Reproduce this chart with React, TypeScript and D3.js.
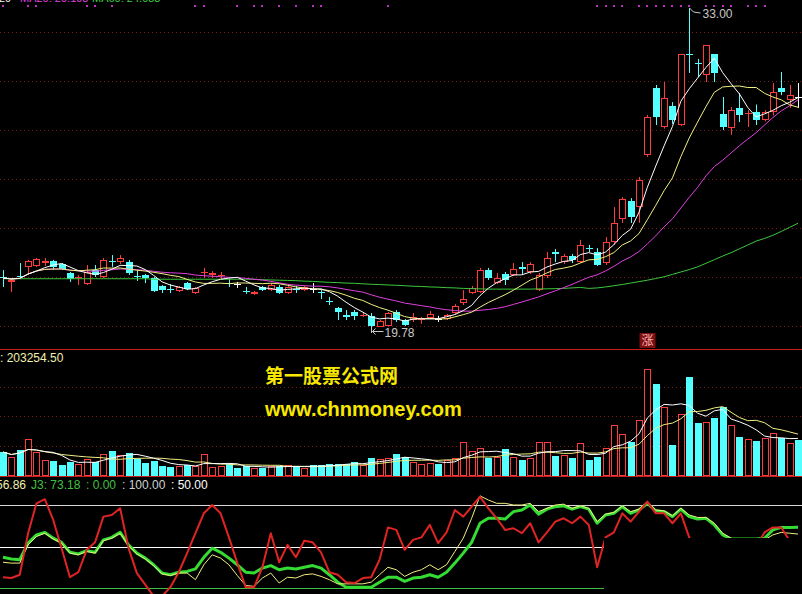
import React from 'react';
import * as d3 from 'd3';

const W = 802;
const H = 594;

const opens = [21.85,21.65,21.89,22.27,22.31,22.43,22.51,22.39,22.02,21.81,21.56,22.14,21.85,22.51,22.47,22.47,21.89,21.94,21.81,21.48,21.37,21.27,21.60,21.19,22.02,21.94,21.93,21.62,21.57,21.29,21.15,21.44,21.31,21.44,21.19,21.37,21.31,21.36,21.24,20.87,20.57,20.28,20.40,20.27,20.24,19.79,19.82,20.40,20.07,20.07,20.10,20.15,20.11,20.11,20.36,20.78,21.19,21.23,22.14,21.60,21.98,21.94,22.27,22.06,21.31,21.89,22.89,22.47,22.72,22.47,23.06,22.89,22.43,23.30,24.26,25.00,24.75,26.91,29.68,28.07,28.94,28.15,31.10,30.74,30.22,31.09,28.61,28.03,28.86,28.64,28.69,28.36,28.69,29.68,29.19,29.31];
const highs = [22.14,21.77,22.43,22.56,22.64,22.64,22.56,22.43,22.06,21.94,22.35,22.35,22.64,22.76,22.76,22.56,22.14,21.98,21.85,21.52,21.56,21.48,21.65,21.44,22.23,22.10,22.06,21.77,21.65,21.44,21.27,21.48,21.60,21.52,21.48,21.48,21.48,21.60,21.31,21.02,20.61,20.48,20.48,20.40,20.36,20.07,20.40,20.48,20.11,20.36,20.20,20.44,20.24,20.32,20.73,21.31,21.48,22.23,22.23,22.02,22.06,22.43,22.47,22.47,22.02,22.89,23.01,22.81,22.81,23.39,23.18,23.05,23.51,24.75,25.16,25.12,26.00,28.57,29.81,29.93,29.10,31.09,33.00,30.89,31.47,31.09,29.31,28.90,29.48,28.77,29.00,28.77,29.89,30.35,29.81,29.89];
const lows = [21.44,21.23,21.81,21.94,22.27,22.31,22.14,22.14,21.65,21.52,21.52,21.85,21.81,22.27,22.39,21.94,21.69,21.60,21.23,21.19,21.19,21.23,21.31,21.15,21.81,21.81,21.77,21.44,21.40,21.15,21.11,21.27,21.27,21.15,21.15,21.19,21.27,21.19,20.94,20.69,20.07,20.07,20.07,20.20,19.78,19.80,19.80,19.99,19.82,19.99,19.91,20.11,19.99,20.07,20.32,20.69,21.15,21.19,21.73,21.56,21.52,21.89,21.94,21.98,21.27,21.81,22.47,22.39,22.43,22.43,22.89,22.31,22.35,23.18,24.09,24.09,24.10,26.83,28.15,28.00,28.20,28.10,30.31,30.14,29.93,29.93,27.94,27.74,28.27,28.07,28.15,28.30,28.55,29.39,28.86,28.86];
const closes = [21.81,21.73,21.85,22.51,22.60,22.51,22.27,22.18,21.77,21.85,22.06,21.94,22.56,22.47,22.64,22.02,21.85,21.81,21.27,21.31,21.35,21.44,21.36,21.40,22.06,22.02,21.95,21.60,21.57,21.27,21.23,21.31,21.52,21.19,21.44,21.35,21.44,21.36,21.22,20.85,20.40,20.20,20.24,20.29,19.82,20.03,20.36,20.07,19.86,20.20,20.12,20.32,20.11,20.28,20.65,20.94,21.40,22.14,21.81,21.81,21.73,22.18,22.18,22.39,21.94,22.64,22.81,22.72,22.56,23.18,23.04,22.35,23.30,24.09,25.08,24.34,25.87,28.48,28.48,29.27,28.36,31.09,31.05,30.70,31.47,30.31,28.07,28.77,28.57,28.66,28.36,28.69,29.52,29.52,29.39,29.31];
const volumes = [135500,107300,146800,208900,135500,90300,84700,62100,79000,67800,96000,79000,124200,141200,118600,129900,96000,73400,84700,56500,50800,56500,62100,56500,124200,50800,56500,67800,45200,56500,45200,45200,56500,58000,62000,50000,45000,60000,62000,70000,68000,70000,78000,62000,100000,95000,100000,125000,110000,80000,70000,75000,65000,90000,100000,190000,140000,160000,100000,110000,150000,110000,90000,101600,192000,192000,112900,118600,101600,186300,90300,107300,158100,288000,237100,192000,316200,604100,519400,389600,175000,350100,558900,299200,304900,327500,389600,288000,220200,208900,197600,214500,242800,214500,186300,203254.5];
const ma60 = [21.78,21.78,21.78,21.78,21.78,21.78,21.78,21.78,21.78,21.78,21.78,21.78,21.78,21.78,21.78,21.78,21.78,21.78,21.76,21.76,21.76,21.76,21.76,21.76,21.76,21.76,21.76,21.76,21.76,21.76,21.76,21.74,21.73,21.72,21.71,21.70,21.68,21.67,21.65,21.63,21.62,21.60,21.59,21.57,21.55,21.54,21.52,21.51,21.49,21.47,21.46,21.44,21.43,21.41,21.40,21.38,21.37,21.36,21.35,21.35,21.35,21.35,21.35,21.35,21.36,21.36,21.37,21.38,21.40,21.42,21.38,21.40,21.44,21.49,21.54,21.60,21.66,21.72,21.79,21.86,21.96,22.06,22.16,22.27,22.42,22.57,22.72,22.86,23.02,23.18,23.34,23.45,23.58,23.74,23.91,24.08];
const lineRed = [13,12,16,66,102,107,82,48,13,19,46,55,86,88,96,48,18,4,-10,-10,1,19,42,66,90,100,90,61,30,1,1,25,66,31,52,37,57,55,43,19,16,7,6,12,13,34,73,70,46,58,61,76,54,67,94,86,98,110,96,84,70,72,66,78,55,67,80,84,78,86,76,25,61,67,90,80,92,104,90,90,78,90,61,45,40,35,30,35,40,45,50,67,73,73,57];
const lineGreen = [37,35,34,54,64,67,60,55,43,41,45,43,58,61,67,52,42,36,28,18,16,19,20,23,37,48,43,36,28,19,18,24,27,22,24,23,25,27,24,16,7,1,1,1,1,7,13,13,8,12,13,16,13,19,30,42,55,78,84,84,83,92,94,100,89,95,98,99,95,98,95,78,88,90,98,90,94,102,93,92,86,95,86,83,84,76,64,59,59,59,59,60,70,73,73,73.18];
const lineYellow = [31,30,30,52,62,66,59,54,42,40,44,42,57,60,66,51,41,35,27,17,15,18,18,10,28,40,36,28,15,3,2,12,18,6,13,12,16,17,14,10,5,5,5,5,7,16,25,22,14,19,22,28,22,28,44,60,84,111,106,102,102,100,100,102,92,96,100,101,96,99,96,80,89,91,99,92,95,104,94,93,87,96,88,85,85,78,66,60,57,56,56,58,64,67,66,65];
const topMarkers = [0,3,4,10,11,13,23,24,28,30,31,33,35,37,38,46,71,72,73,74,76,77,78,79,80,81,82,84,85,86,87,89,90,91];
const topLabels = ['29', 'MA20: 29.198', 'MA60: 24.083'];
const priceGrid = [19.82,21.85,23.88,25.91,27.94,29.97,32.0];
const volGrid = [170000,340000,505000];
const indLevels = [0,50,100];

const RED = '#ff3c3c';
const CYAN = '#54ffff';
const NUM_FONT = '"Liberation Sans", Arial, sans-serif';

function movingAvg(arr: number[], k: number): number[] {
  return arr.map((_, i) => d3.mean(arr.slice(Math.max(0, i - k + 1), i + 1)) as number);
}

export default function App() {
  const n = closes.length;
  const idx = d3.range(n);
  const x = d3.scaleLinear().domain([0, n - 1]).range([3, 798]);
  const yP = d3.scaleLinear().domain([19.78, 33]).range([327, 8]);
  const yV = d3.scaleLinear().domain([0, 720000]).range([476, 348.5]);
  const yI = d3.scaleLinear().domain([0, 100]).range([588, 505]);

  const ma5 = movingAvg(closes, 5);
  const ma10 = movingAvg(closes, 10);
  const ma20 = movingAvg(closes, 20);
  const vma5 = movingAvg(volumes, 5);
  const vma10 = movingAvg(volumes, 10);

  const lineP = d3.line<number>().x((_, i) => x(i)).y((d) => yP(d));
  const lineV = d3.line<number>().x((_, i) => x(i)).y((d) => yV(d));
  const lineI = d3.line<number>().x((_, i) => x(i)).y((d) => yI(d));

  const left = (i: number) => Math.round(x(i)) - 3;

  const candles = idx.map((i) => {
    const o = opens[i], c = closes[i], h = highs[i], l = lows[i];
    const L = left(i);
    const cx = L + 3.5;
    if (o === c) {
      const yy = Math.round(yP(o)) + 0.5;
      return (
        <g key={i} stroke="#ffffff" strokeWidth={1}>
          <line x1={cx} x2={cx} y1={yP(h)} y2={yP(l)} />
          <line x1={L} x2={L + 7} y1={yy} y2={yy} />
        </g>
      );
    }
    if (c > o) {
      const top = Math.round(yP(c));
      const bot = Math.round(yP(o));
      return (
        <g key={i} stroke={RED} strokeWidth={1}>
          <line x1={cx} x2={cx} y1={yP(h)} y2={top} />
          <line x1={cx} x2={cx} y1={bot} y2={yP(l)} />
          {bot - top < 2 ? (
            <line x1={L} x2={L + 7} y1={top + 0.5} y2={top + 0.5} />
          ) : (
            <rect x={L + 0.5} y={top + 0.5} width={6} height={bot - top - 1} fill="#000" />
          )}
        </g>
      );
    }
    const top = Math.round(yP(o));
    const bot = Math.round(yP(c));
    return (
      <g key={i}>
        <line x1={cx} x2={cx} y1={yP(h)} y2={yP(l)} stroke={CYAN} strokeWidth={1} />
        <rect x={L} y={top} width={7} height={Math.max(1, bot - top)} fill={CYAN} />
      </g>
    );
  });

  const volBars = idx.map((i) => {
    const L = left(i);
    const top = Math.round(yV(volumes[i]));
    const base = Math.round(yV(0));
    if (closes[i] > opens[i]) {
      return (
        <rect key={i} x={L + 0.5} y={top + 0.5} width={6} height={base - top - 1} fill="#000" stroke={RED} strokeWidth={1} />
      );
    }
    return <rect key={i} x={L} y={top} width={7} height={base - top} fill={CYAN} />;
  });

  const iHigh = d3.maxIndex(highs);
  const iLow = d3.minIndex(lows);
  const hx = Math.round(x(iHigh)) + 0.5;
  const hy = yP(highs[iHigh]);
  const lx = Math.round(x(iLow)) + 0.5;
  const ly = yP(lows[iLow]);
  const iLimit = 77;
  const limX = Math.round(x(iLimit)) + 0.5;

  return (
    <svg
      width={W}
      height={H}
      style={{ position: 'fixed', left: 0, top: 0, background: '#000', display: 'block' }}
    >
      <defs>
        <clipPath id="mainClip"><rect x={0} y={0} width={W} height={348} /></clipPath>
        <clipPath id="volClip"><rect x={0} y={350} width={W} height={126} /></clipPath>
        <clipPath id="indClip"><rect x={0} y={491} width={W} height={103} /></clipPath>
      </defs>
      <rect x={0} y={0} width={W} height={H} fill="#000" />

      {/* clipped top labels (only their lower edge shows, as in the reference) */}
      <text y={1.5} fontSize={11} fontFamily={NUM_FONT}>
        <tspan x={-1} fill="#f0f0f0">{topLabels[0]}</tspan>
        <tspan x={20} fill="#e040e0">{topLabels[1]}</tspan>
        <tspan x={92} fill="#40d040">{topLabels[2]}</tspan>
      </text>

      {/* top markers */}
      {topMarkers.map((i) => (
        <rect key={i} x={Math.round(x(i)) - 1} y={5} width={2} height={2} fill="#c030c0" />
      ))}

      {/* grid */}
      {priceGrid.map((p) => (
        <line key={p} x1={0} x2={W} y1={Math.round(yP(p)) + 0.5} y2={Math.round(yP(p)) + 0.5} stroke="#7a1c1c" strokeDasharray="1,3" />
      ))}
      {volGrid.map((v) => (
        <line key={v} x1={0} x2={W} y1={Math.round(yV(v)) + 0.5} y2={Math.round(yV(v)) + 0.5} stroke="#7a1c1c" strokeDasharray="1,3" />
      ))}

      {/* panel borders */}
      <line x1={0} x2={W} y1={349.5} y2={349.5} stroke="#c81e1e" />
      <line x1={0} x2={W} y1={476.5} y2={476.5} stroke="#c81e1e" />

      {/* candles and moving averages */}
      <g clipPath="url(#mainClip)">
        {candles}
        <path d={lineP(ma60) || ''} fill="none" stroke="#3cc83c" strokeWidth={1} />
        <path d={lineP(ma20) || ''} fill="none" stroke="#e040e0" strokeWidth={1} />
        <path d={lineP(ma10) || ''} fill="none" stroke="#f0f080" strokeWidth={1} />
        <path d={lineP(ma5) || ''} fill="none" stroke="#ffffff" strokeWidth={1} />
      </g>

      {/* high / low labels */}
      <polyline points={`${hx},${hy} ${hx + 4},${hy + 4} ${hx + 11},${hy + 5}`} fill="none" stroke="#c8c8c8" strokeWidth={1} />
      <text x={hx + 13} y={hy + 10} fontSize={12} fontFamily={NUM_FONT} fill="#c8c8c8">{highs[iHigh].toFixed(2)}</text>
      <line x1={lx} x2={lx} y1={ly} y2={ly + 6} stroke="#c8c8c8" />
      <line x1={lx + 1} x2={lx + 12} y1={ly + 4.5} y2={ly + 4.5} stroke="#c8c8c8" />
      <polyline points={`${lx + 4},${ly + 1.5} ${lx + 1},${ly + 4.5} ${lx + 4},${ly + 7.5}`} fill="none" stroke="#c8c8c8" />
      <text x={lx + 13} y={ly + 10} fontSize={12} fontFamily={NUM_FONT} fill="#c8c8c8">{lows[iLow].toFixed(2)}</text>

      {/* limit-up tag */}
      <rect x={limX - 8} y={333} width={16} height={15} fill="#7a1010" />
      <text x={limX} y={345} fontSize={12} textAnchor="middle" fontFamily='"Noto Sans CJK SC", sans-serif' fill="#ffb4b4">涨</text>

      {/* volume */}
      <g clipPath="url(#volClip)">
        {volBars}
        <path d={lineV(vma10) || ''} fill="none" stroke="#f0f080" strokeWidth={1} />
        <path d={lineV(vma5) || ''} fill="none" stroke="#ffffff" strokeWidth={1} />
      </g>
      <text x={0} y={362} fontSize={12} fontFamily={NUM_FONT} fill="#f0f0b0">: {volumes[n - 1].toFixed(2)}</text>

      {/* watermark */}
      <text x={265} y={383} fontSize={19} fontWeight="bold" fontFamily='"Noto Sans CJK SC", sans-serif' fill="#f8e800">第一股票公式网</text>
      <text x={265} y={416} fontSize={20} fontWeight="bold" fontFamily={NUM_FONT} fill="#f8e800">www.chnmoney.com</text>

      {/* indicator label */}
      <text y={489} fontSize={12} fontFamily={NUM_FONT}>
        <tspan x={-4} fill="#f0f0b0">56.86</tspan>
        <tspan x={31} fill="#40c040">J3: {lineGreen[n - 1].toFixed(2)}</tspan>
        <tspan x={86} fill="#40c040">: 0.00</tspan>
        <tspan x={122} fill="#d0d0d0">: 100.00</tspan>
        <tspan x={171} fill="#ffffff">: 50.00</tspan>
      </text>

      {/* indicator panel */}
      <g clipPath="url(#indClip)">
        {indLevels.map((v) => (
          <line key={v} x1={0} x2={W} y1={Math.round(yI(v)) + 0.5} y2={Math.round(yI(v)) + 0.5}
            stroke={v === 0 ? '#40c040' : v === 100 ? '#d8d8d8' : '#ffffff'} strokeWidth={1} />
        ))}
        <path d={lineI(lineGreen) || ''} fill="none" stroke="#34dc34" strokeWidth={3} strokeLinejoin="round" />
        <path d={lineI(lineYellow) || ''} fill="none" stroke="#f0f080" strokeWidth={1} />
        <path d={lineI(lineRed) || ''} fill="none" stroke="#e02424" strokeWidth={2} strokeLinejoin="round" />
      </g>
      <rect x={604} y={538} width={W - 604} height={H - 538} fill="#000" />
    </svg>
  );
}
